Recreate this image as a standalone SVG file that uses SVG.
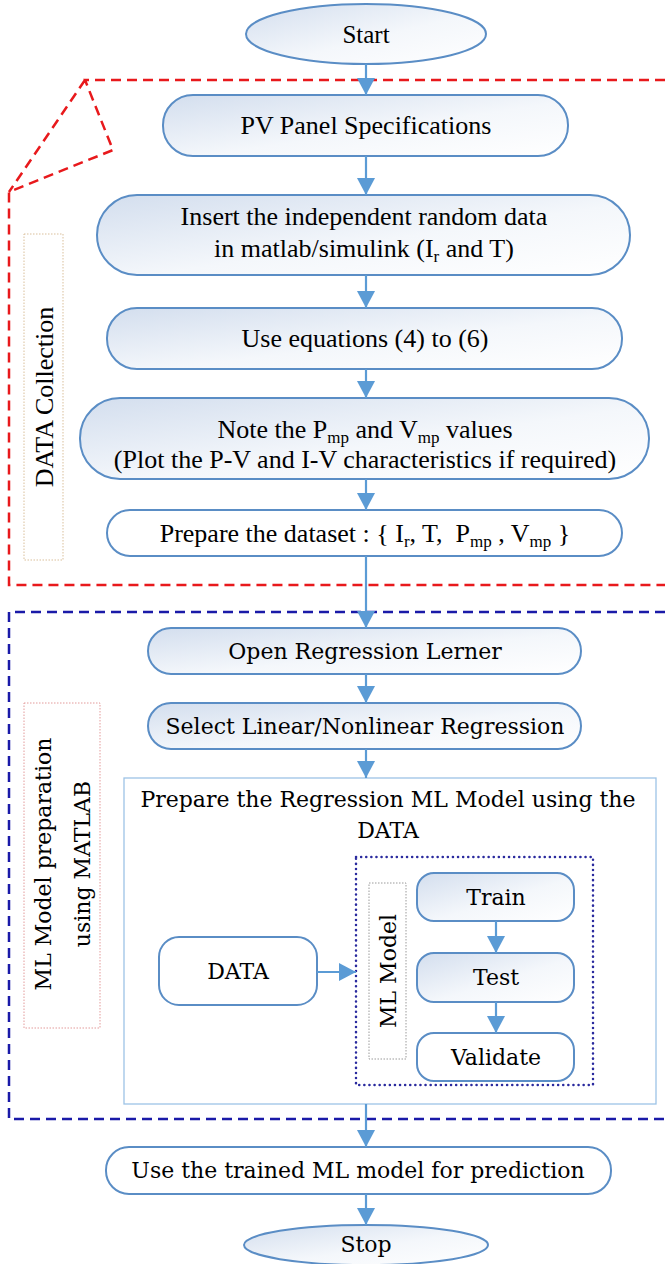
<svg xmlns="http://www.w3.org/2000/svg" width="665" height="1264" viewBox="0 0 665 1264">
<defs>
<linearGradient id="g" x1="0" y1="0" x2="1" y2="1">
<stop offset="0" stop-color="#d3deee"/>
<stop offset="0.55" stop-color="#f4f7fb"/>
<stop offset="1" stop-color="#ffffff"/>
</linearGradient>
<marker id="ah" viewBox="0 0 17 18" refX="17" refY="9" markerWidth="17" markerHeight="18" markerUnits="userSpaceOnUse" orient="auto">
<path d="M0,0 L17,9 L0,18 z" fill="#5b9bd5"/>
</marker>
<style>
.n{fill:url(#g);stroke:#5a8dc5;stroke-width:2}
.w{fill:#ffffff;stroke:#5a8dc5;stroke-width:2}
.t{font-family:"Liberation Serif","Times New Roman",serif;font-size:26px;fill:#000;text-anchor:middle}
.c{font-family:"DejaVu Serif",serif;font-size:22px;fill:#000;text-anchor:middle}
.s{font-size:17px}
.e{stroke:#5b9bd5;stroke-width:2.2;fill:none;marker-end:url(#ah)}
</style>
</defs>
<rect width="665" height="1264" fill="#ffffff"/>

<g id="data-collection-frame">
<path d="M665,80 H85 L113,150 L9,192 V585 H665 M85,80 L9,192" fill="none" stroke="#e8191c" stroke-width="2.5" stroke-dasharray="10,6"/>
<rect x="24" y="234" width="39" height="326" fill="#ffffff" stroke="#d9bf9a" stroke-width="1" stroke-dasharray="1.5,1.5"/>
<text class="t" transform="translate(44,397) rotate(-90)" x="0" y="9">DATA Collection</text>
</g>

<g id="ml-frame">
<path d="M665,612 H9 V1119 H665" fill="none" stroke="#1a1aa8" stroke-width="2.5" stroke-dasharray="10,6"/>
<rect x="24" y="703" width="76" height="325" fill="#ffffff" stroke="#e39a9a" stroke-width="1" stroke-dasharray="1.5,1.5"/>
<text class="c" transform="translate(62,864) rotate(-90)"><tspan x="0" y="-11">ML Model preparation</tspan><tspan x="0" y="28">using MATLAB</tspan></text>
</g>

<g id="start">
<ellipse class="n" cx="366" cy="34" rx="120" ry="30"/>
<text class="t" x="366" y="43" style="font-size:25px">Start</text>
</g>

<g id="pv-panel">
<rect class="n" x="163" y="95" width="405" height="61" rx="30"/>
<text class="t" x="366" y="134">PV Panel Specifications</text>
</g>

<g id="insert-data">
<rect class="n" x="97" y="195" width="533" height="80" rx="40"/>
<text class="t" x="364" y="225">Insert the independent random data</text>
<text class="t" x="364" y="257">in matlab/simulink (I<tspan class="s" dy="5">r</tspan><tspan dy="-5"> and T)</tspan></text>
</g>

<g id="use-equations">
<rect class="n" x="107" y="308" width="515" height="61" rx="30"/>
<text class="t" x="365" y="347">Use equations (4) to (6)</text>
</g>

<g id="note-values">
<rect class="n" x="80" y="398" width="569" height="81" rx="40"/>
<text class="t" x="365" y="438">Note the P<tspan class="s" dy="5">mp</tspan><tspan dy="-5"> and V</tspan><tspan class="s" dy="5">mp</tspan><tspan dy="-5"> values</tspan></text>
<text class="t" x="365" y="468">(Plot the P-V and I-V characteristics if required)</text>
</g>

<g id="prepare-dataset">
<rect class="w" x="107" y="510" width="515" height="46" rx="23"/>
<text class="t" x="365" y="542">Prepare the dataset : { I<tspan class="s" dy="5">r</tspan><tspan dy="-5">, T,&#160; P</tspan><tspan class="s" dy="5">mp</tspan><tspan dy="-5"> , V</tspan><tspan class="s" dy="5">mp</tspan><tspan dy="-5"> }</tspan></text>
</g>

<g id="open-regression">
<rect class="n" x="148" y="628" width="433" height="46" rx="23"/>
<text class="c" x="365" y="659">Open Regression Lerner</text>
</g>

<g id="select-regression">
<rect class="n" x="148" y="703" width="433" height="46" rx="23"/>
<text class="c" x="365" y="734">Select Linear/Nonlinear Regression</text>
</g>

<g id="prepare-model">
<rect x="124" y="778" width="532" height="326" fill="#ffffff" stroke="#9dc3e6" stroke-width="1.3"/>
<text class="c" x="388" y="807">Prepare the Regression ML Model using the</text>
<text class="c" x="388" y="838">DATA</text>
</g>

<g id="data">
<rect class="w" x="159" y="937" width="158" height="68" rx="20"/>
<text class="c" x="238" y="979">DATA</text>
</g>

<g id="ml-model">
<rect x="356" y="857" width="237" height="228" fill="none" stroke="#2a2a9e" stroke-width="2.5" stroke-dasharray="0.1,5" stroke-linecap="round"/>
<rect x="369" y="883" width="37" height="176" fill="#ffffff" stroke="#9a9a9a" stroke-width="1" stroke-dasharray="1.5,1.5"/>
<text class="c" transform="translate(388,971) rotate(-90)" x="0" y="8">ML Model</text>
</g>

<g id="train">
<rect class="n" x="417" y="873" width="157" height="48" rx="17"/>
<text class="c" x="496" y="905">Train</text>
</g>

<g id="test">
<rect class="n" x="417" y="953" width="157" height="49" rx="17"/>
<text class="c" x="496" y="985">Test</text>
</g>

<g id="validate">
<rect class="w" x="417" y="1033" width="157" height="48" rx="17"/>
<text class="c" x="496" y="1065">Validate</text>
</g>

<g id="use-trained">
<rect class="w" x="106" y="1147" width="505" height="47" rx="23"/>
<text class="c" x="358" y="1178">Use the trained ML model for prediction</text>
</g>

<g id="stop">
<ellipse class="n" cx="366" cy="1245" rx="122" ry="20"/>
<text class="c" x="366" y="1252">Stop</text>
</g>

<g id="connectors">
<line class="e" x1="366" y1="64" x2="366" y2="95"/>
<line class="e" x1="366" y1="156" x2="366" y2="195"/>
<line class="e" x1="366" y1="275" x2="366" y2="308"/>
<line class="e" x1="366" y1="369" x2="366" y2="398"/>
<line class="e" x1="366" y1="479" x2="366" y2="510"/>
<line class="e" x1="366" y1="556" x2="366" y2="628"/>
<line class="e" x1="366" y1="674" x2="366" y2="703"/>
<line class="e" x1="366" y1="749" x2="366" y2="778"/>
<line class="e" x1="317" y1="972" x2="356" y2="972"/>
<line class="e" x1="496" y1="921" x2="496" y2="953"/>
<line class="e" x1="496" y1="1002" x2="496" y2="1033"/>
<line class="e" x1="366" y1="1104" x2="366" y2="1147"/>
<line class="e" x1="366" y1="1194" x2="366" y2="1225"/>
</g>
</svg>
